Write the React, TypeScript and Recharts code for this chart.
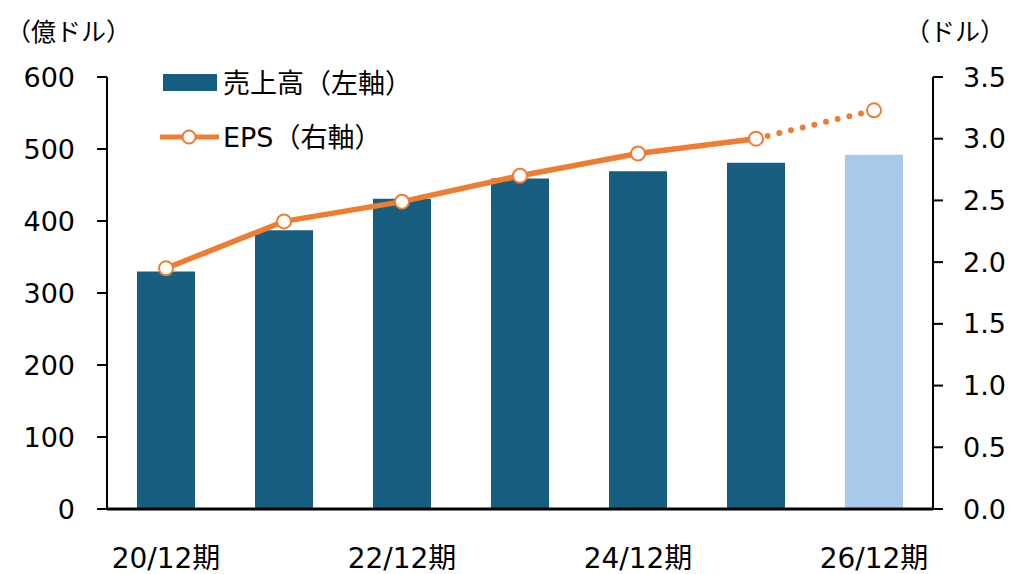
import React from "react";
import {
  ComposedChart,
  Bar,
  Line,
  XAxis,
  YAxis,
  Cell,
} from "recharts";

const periods = ["20/12期", "21/12期", "22/12期", "23/12期", "24/12期", "25/12期", "26/12期"];
const revenue = [330, 387, 431, 459, 469, 481, 492];
const eps = [1.95, 2.33, 2.49, 2.7, 2.88, 3.0, 3.23];
const actualCount = 6; // last period is a forecast
const leftTicks = [0, 100, 200, 300, 400, 500, 600];
const rightTicks = [0, 0.5, 1.0, 1.5, 2.0, 2.5, 3.0, 3.5];

const BAR = "#175E80";
const BAR_FORECAST = "#A7CAEB";
const LINE = "#ED7D31";
const FONT = "'DejaVu Sans', 'Noto Sans CJK JP', sans-serif";

const data = periods.map((p, i) => ({
  period: p,
  revenue: revenue[i],
  eps: i < actualCount ? eps[i] : null,
  epsForecast: i >= actualCount - 1 ? eps[i] : null,
}));

const yTick = { fill: "#000", fontSize: 27, fontFamily: FONT };
const xTick = { fill: "#000", fontSize: 28, fontFamily: FONT };

const LegendBox = () => (
  <div
    style={{
      position: "absolute",
      left: 160,
      top: 66,
      fontFamily: FONT,
      fontSize: 27,
      color: "#000",
      lineHeight: "1",
    }}
  >
    <div style={{ display: "flex", alignItems: "center", height: 34 }}>
      <svg width={60} height={20} style={{ marginRight: 3 }}>
        <rect x={3} y={1} width={54} height={17} fill={BAR} />
      </svg>
      <span>売上高（左軸）</span>
    </div>
    <div style={{ display: "flex", alignItems: "center", height: 34, marginTop: 20 }}>
      <svg width={60} height={20} style={{ marginRight: 3 }}>
        <line x1={0} y1={10} x2={59} y2={10} stroke={LINE} strokeWidth={5} />
        <circle cx={29} cy={10} r={6.5} fill="#fff" stroke={LINE} strokeWidth={2} />
      </svg>
      <span>EPS（右軸）</span>
    </div>
  </div>
);

const hollowDot = (props: any) => {
  const { cx, cy, index, value } = props;
  if (value == null || cx == null || cy == null) return <g key={index} />;
  return (
    <circle key={index} cx={cx} cy={cy} r={7} fill="#fff" stroke={LINE} strokeWidth={2} />
  );
};

const forecastDot = (props: any) => {
  const { cx, cy, index } = props;
  if (index < actualCount || cx == null) return <g key={index} />;
  return (
    <circle key={index} cx={cx} cy={cy} r={7} fill="#fff" stroke={LINE} strokeWidth={2} />
  );
};

export default function App() {
  return (
    <div style={{ position: "absolute", left: 0, top: 0, width: 1014, height: 574, background: "#fff" }}>
      <ComposedChart
        width={1014}
        height={574}
        data={data}
        margin={{ top: 77, right: 11, bottom: 5, left: 27 }}
      >
        <XAxis
          dataKey="period"
          interval={1}
          tickLine={false}
          axisLine={{ stroke: "#000", strokeWidth: 3 }}
          tick={xTick}
          tickMargin={33}
          height={60}
        />
        <YAxis
          yAxisId="left"
          domain={[0, 600]}
          ticks={leftTicks}
          tick={yTick}
          tickSize={10}
          tickMargin={22}
          axisLine={{ stroke: "#000", strokeWidth: 2 }}
          tickLine={{ stroke: "#000", strokeWidth: 2 }}
          width={80}
        />
        <YAxis
          yAxisId="right"
          orientation="right"
          domain={[0, 3.5]}
          ticks={rightTicks}
          tickFormatter={(v: number) => v.toFixed(1)}
          tick={yTick}
          tickSize={10}
          tickMargin={20}
          axisLine={{ stroke: "#000", strokeWidth: 2 }}
          tickLine={{ stroke: "#000", strokeWidth: 2 }}
          width={70}
        />
        <Bar yAxisId="left" dataKey="revenue" isAnimationActive={false} barSize={58}>
          {data.map((d, i) => (
            <Cell key={d.period} fill={i < actualCount ? BAR : BAR_FORECAST} />
          ))}
        </Bar>
        <Line
          yAxisId="right"
          dataKey="epsForecast"
          stroke={LINE}
          strokeWidth={6}
          strokeDasharray="0 12"
          strokeLinecap="round"
          dot={forecastDot}
          activeDot={false}
          isAnimationActive={false}
        />
        <Line
          yAxisId="right"
          dataKey="eps"
          stroke={LINE}
          strokeWidth={5.5}
          dot={hollowDot}
          activeDot={false}
          isAnimationActive={false}
        />
      </ComposedChart>
      <div style={{ position: "absolute", left: 6, top: 12, fontFamily: FONT, fontSize: 25 }}>（億ドル）</div>
      <div style={{ position: "absolute", left: 905, top: 12, fontFamily: FONT, fontSize: 25 }}>（ドル）</div>
      <LegendBox />
    </div>
  );
}
